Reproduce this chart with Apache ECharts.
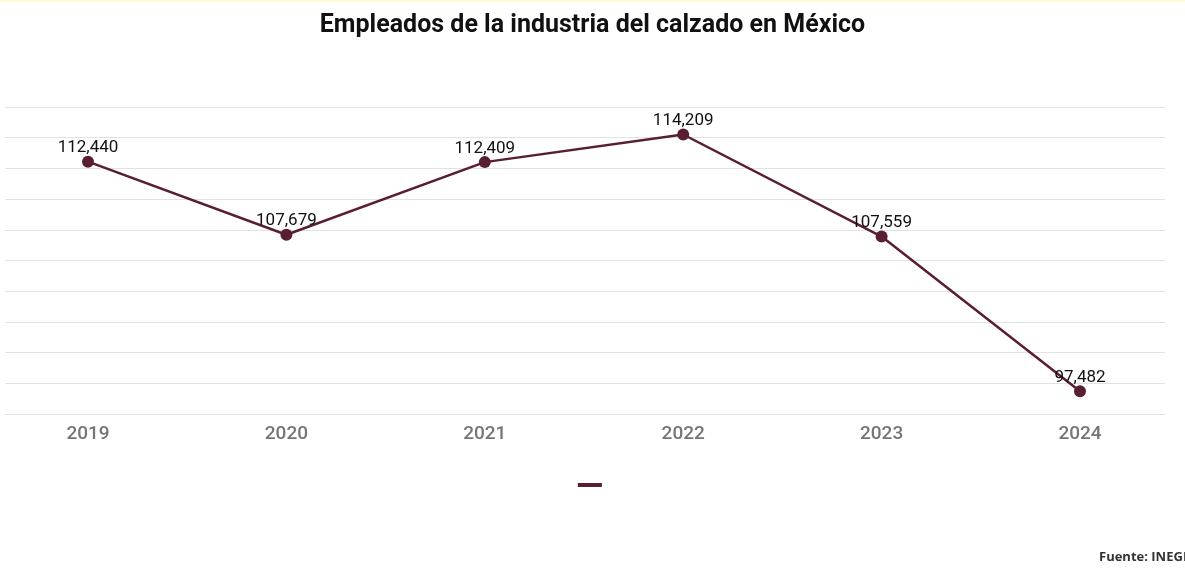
<!DOCTYPE html>
<html>
<head>
<meta charset="utf-8">
<script src="https://cdn.jsdelivr.net/npm/echarts@6/dist/echarts.min.js"></script>
<style>
html,body{margin:0;padding:0;background:#fff;}
#c{width:1185px;height:580px;}
</style>
</head>
<body>
<div id="c"></div>
<script>
const years = [2019, 2020, 2021, 2022, 2023, 2024];
const empleados = [112440, 107679, 112409, 114209, 107559, 97482];
const yTicks = { min: 96000, max: 116000, interval: 2000 };
const lineColor = '#5a1e32';

const chart = echarts.init(document.getElementById('c'));
chart.setOption({
  backgroundColor: '#ffffff',
  animation: false,
  title: {
    text: 'Empleados de la industria del calzado en México',
    left: 'center',
    top: 8,
    textStyle: { fontFamily: 'Roboto', fontWeight: 'bold', fontSize: 25, color: '#111' }
  },
  legend: {
    bottom: 88,
    left: 'center',
    icon: 'rect',
    itemWidth: 24,
    itemHeight: 4,
    data: [' '],
    textStyle: { fontSize: 1 }
  },
  grid: { left: 5, right: 20, top: 107, bottom: 166 },
  xAxis: {
    type: 'value',
    min: 2019 - 83 / 198.4,
    max: 2024 + 85 / 198.4,
    axisLine: { show: false },
    axisTick: { show: false },
    splitLine: { show: false },
    axisLabel: {
      customValues: years,
      formatter: v => String(Math.round(v)),
      color: '#757575',
      fontFamily: 'Roboto',
      fontWeight: 500,
      fontSize: 19,
      margin: 11
    }
  },
  yAxis: {
    type: 'value',
    min: yTicks.min,
    max: yTicks.max,
    interval: yTicks.interval,
    axisLine: { show: false },
    axisTick: { show: false },
    axisLabel: { show: false },
    splitLine: { lineStyle: { color: '#e2e2e2', width: 1 } }
  },
  series: [{
    name: ' ',
    type: 'line',
    data: years.map((y, i) => [y, empleados[i]]),
    symbol: 'circle',
    symbolSize: 12,
    lineStyle: { color: lineColor, width: 2.5 },
    itemStyle: { color: lineColor },
    label: {
      show: true,
      position: 'top',
      distance: -1,
      color: '#111',
      fontFamily: 'Roboto',
      fontSize: 17,
      formatter: p => p.value[1].toLocaleString('en-US')
    }
  }],
  graphic: [
    { type: 'rect', left: 0, top: 0, shape: { width: 1185, height: 2 }, style: { fill: '#fffbd2' } },
    { type: 'text', left: 1099, top: 551, style: { text: 'Fuente: INEGI', fontFamily: 'Open Sans', fontWeight: 'bold', fontSize: 13, fill: '#333' } }
  ]
});
</script>
</body>
</html>
